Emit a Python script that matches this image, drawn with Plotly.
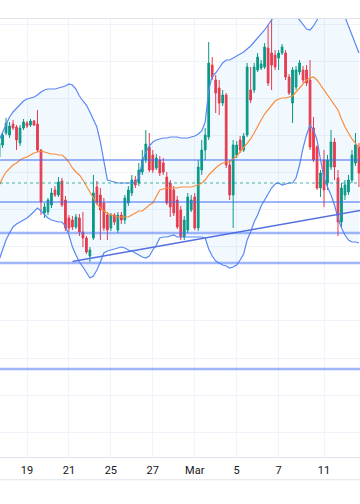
import plotly.graph_objects as go

# ---- data (4H bars, index 0 = first bar of the 19th) ----
bar_index = list(range(-8, 96))

opens = [443, 455, 467, 465, 476, 473, 457, 472, 477, 475, 479, 476, 450, 387, 388, 395,
         410, 405, 419, 400, 382, 380, 373, 382, 368, 362, 344, 362, 413, 405, 397, 385,
         372, 385, 370, 385, 380, 397, 407, 420, 417, 428, 440, 453, 445, 432, 440, 437,
         423, 417, 410, 400, 390, 363, 370, 390, 403, 372, 430, 450, 463, 535, 520, 512,
         497, 505, 435, 405, 445, 460, 450, 465, 510, 510, 530, 532, 533, 552, 547, 545,
         542, 547, 547, 523, 497, 513, 528, 530, 530, 520, 472, 453, 412, 440, 417, 433,
         458, 422, 378, 405, 408, 420, 437, 453]
highs = [460, 468, 482, 478, 480, 475, 475, 481, 479, 481, 480, 490, 451, 397, 402, 412,
         414, 423, 422, 404, 385, 384, 386, 386, 388, 364, 353, 425, 419, 412, 402, 388,
         387, 387, 388, 388, 405, 414, 425, 424, 437, 450, 470, 467, 450, 446, 444, 442,
         428, 420, 414, 404, 394, 384, 407, 405, 407, 440, 460, 472, 558, 543, 525, 520,
         510, 507, 440, 460, 459, 464, 467, 537, 533, 537, 547, 540, 557, 575, 582, 550,
         550, 556, 550, 526, 533, 534, 540, 534, 535, 540, 483, 455, 430, 450, 445, 470,
         462, 430, 417, 420, 425, 450, 467, 457]
lows = [440, 452, 465, 462, 470, 450, 454, 470, 472, 473, 474, 448, 385, 382, 385, 392,
        403, 403, 393, 369, 368, 370, 371, 364, 353, 346, 338, 360, 395, 360, 369, 360,
        369, 375, 367, 376, 376, 394, 404, 412, 414, 425, 437, 428, 427, 430, 424, 425,
        395, 383, 384, 371, 360, 360, 367, 388, 370, 369, 425, 440, 460, 520, 487, 485,
        494, 432, 400, 372, 442, 447, 448, 463, 497, 507, 528, 530, 531, 514, 510, 530,
        530, 545, 520, 505, 477, 510, 525, 517, 514, 450, 438, 410, 403, 393, 410, 430,
        420, 364, 373, 400, 405, 417, 434, 413]
closes = [457, 465, 477, 474, 472, 460, 472, 478, 474, 479, 475, 450, 398, 393, 400, 407,
          405, 418, 395, 372, 372, 373, 383, 368, 362, 348, 350, 407, 397, 390, 372, 370,
          385, 378, 385, 380, 402, 410, 420, 415, 430, 440, 456, 430, 430, 442, 427, 428,
          397, 393, 387, 373, 363, 380, 403, 400, 372, 433, 450, 465, 537, 523, 507, 497,
          505, 435, 405, 455, 455, 450, 464, 533, 500, 533, 543, 536, 553, 517, 535, 533,
          547, 553, 523, 507, 530, 530, 537, 520, 517, 453, 440, 412, 427, 410, 440, 458,
          433, 378, 412, 415, 420, 445, 455, 427]

bb_upper = [460, 468, 476, 483, 488, 492, 496, 499, 501, 502, 503, 505, 508, 510, 511, 511,
            511, 512, 513, 514, 516, 515, 511, 504, 499, 495, 488, 481, 473, 458, 440, 420,
            419, 418, 417, 417, 417, 417, 417, 418, 422, 438, 448, 454, 458, 460, 461, 462,
            462, 463, 463, 463, 462, 462, 462, 463, 464, 466, 469, 478, 510, 524, 527, 532,
            537, 540, 540, 542, 544, 546, 548, 551, 554, 558, 562, 565, 570, 575, 580, 586,
            590, 592, 592, 591, 588, 584, 580, 575, 571, 570, 574, 580, 587, 592, 595, 596,
            595, 592, 588, 583, 574, 565, 556, 547]
bb_basis = [414, 422, 428, 432, 435, 437, 440, 442, 443, 445, 447, 448, 449, 448, 447, 446,
            446, 445, 445, 442, 438, 432, 428, 425, 420, 414, 408, 403, 396, 392, 389, 387,
            385, 384, 383, 383, 383, 383, 385, 387, 389, 389, 392, 395, 397, 404, 410, 411,
            412, 412, 412, 412, 413, 413, 413, 413, 414, 415, 417, 420, 425, 429, 432, 435,
            437, 438, 438, 441, 444, 448, 452, 457, 461, 467, 474, 480, 486, 490, 495, 499,
            501, 502, 502, 503, 504, 508, 512, 516, 520, 522, 523, 520, 515, 510, 505, 500,
            496, 490, 481, 473, 467, 461, 457, 452]
bb_lower = [340, 350, 360, 367, 373, 376, 378, 380, 382, 385, 389, 392, 389, 385, 382, 380,
            379, 378, 378, 374, 365, 353, 345, 338, 333, 327, 322, 324, 330, 338, 347, 349,
            350, 351, 352, 353, 352, 350, 349, 347, 345, 343, 342, 344, 350, 355, 362, 363,
            363, 364, 365, 363, 363, 363, 363, 363, 363, 363, 363, 362, 351, 344, 339, 337,
            335, 334, 332, 333, 335, 340, 346, 360, 368, 378, 385, 394, 400, 405, 412, 416,
            417, 415, 416, 417, 417, 422, 435, 452, 465, 475, 470, 460, 440, 422, 413, 405,
            395, 382, 372, 365, 360, 358, 358, 357]

levels_solid = [440, 398]
levels_zone = [367, 337, 231]
last_price = 417
trend_x = [13, 100]
trend_y = [338.5, 392.4]

tick_pos = [0, 12, 24, 36, 48, 60, 72, 85]
tick_text = ["19", "21", "25", "27", "Mar", "5", "7", "11"]

UP = "#089981"
DOWN = "#f23645"
BAND = "#5b87f3"
BASIS = "#fb8c3c"
GRID = "#f0f3fa"

fig = go.Figure()

# Bollinger band fill + lines
fig.add_trace(go.Scatter(x=bar_index, y=bb_upper, mode="lines",
                         line=dict(color=BAND, width=1.2), hoverinfo="skip", showlegend=False))
fig.add_trace(go.Scatter(x=bar_index, y=bb_lower, mode="lines", fill="tonexty",
                         fillcolor="rgba(33,150,243,0.06)",
                         line=dict(color=BAND, width=1.2), hoverinfo="skip", showlegend=False))
fig.add_trace(go.Scatter(x=bar_index, y=bb_basis, mode="lines",
                         line=dict(color=BASIS, width=1.2), hoverinfo="skip", showlegend=False))

# trend line
fig.add_trace(go.Scatter(x=trend_x, y=trend_y, mode="lines",
                         line=dict(color="#5470e0", width=1.3), hoverinfo="skip", showlegend=False))

# horizontal levels
for lv in levels_solid:
    fig.add_shape(type="line", xref="paper", x0=0, x1=1, y0=lv, y1=lv,
                  line=dict(color="#3d6cf0", width=1.2), layer="above")
for lv in levels_zone:
    fig.add_shape(type="line", xref="paper", x0=0, x1=1, y0=lv, y1=lv,
                  line=dict(color="rgba(65,110,245,0.5)", width=2.6), layer="above")
fig.add_shape(type="line", xref="paper", x0=0, x1=1, y0=last_price, y1=last_price,
              line=dict(color="rgba(8,153,129,0.75)", width=1, dash="dot"), layer="above")

# candles
fig.add_trace(go.Candlestick(
    x=bar_index, open=opens, high=highs, low=lows, close=closes,
    increasing=dict(line=dict(color=UP, width=1), fillcolor=UP),
    decreasing=dict(line=dict(color=DOWN, width=1), fillcolor=DOWN),
    whiskerwidth=0, showlegend=False, hoverinfo="skip"))

# bottom separator
fig.add_shape(type="line", xref="paper", yref="paper", x0=0, x1=1, y0=-0.052, y1=-0.052,
              line=dict(color="#e0e3eb", width=1))

fig.update_layout(
    width=360, height=504, autosize=False,
    margin=dict(l=0, r=0, t=19, b=47),
    paper_bgcolor="white", plot_bgcolor="white",
    showlegend=False,
    xaxis=dict(range=[-7.73, 95.3], tickmode="array", tickvals=tick_pos, ticktext=tick_text,
               showgrid=True, gridcolor=GRID, gridwidth=1, zeroline=False,
               showline=True, linecolor="#e0e3eb", mirror=True, ticks="",
               ticklabelstandoff=3,
               tickfont=dict(family="Roboto", size=11, color="#131722"),
               rangeslider=dict(visible=False), fixedrange=True),
    yaxis=dict(range=[143, 581], tick0=167.8, dtick=37.1, showticklabels=False,
               showgrid=True, gridcolor=GRID, gridwidth=1, zeroline=False,
               showline=False, fixedrange=True),
)

fig.write_html("out.html", config={"displayModeBar": False},
               post_script="document.body.style.margin='0';document.body.style.overflow='hidden';")
